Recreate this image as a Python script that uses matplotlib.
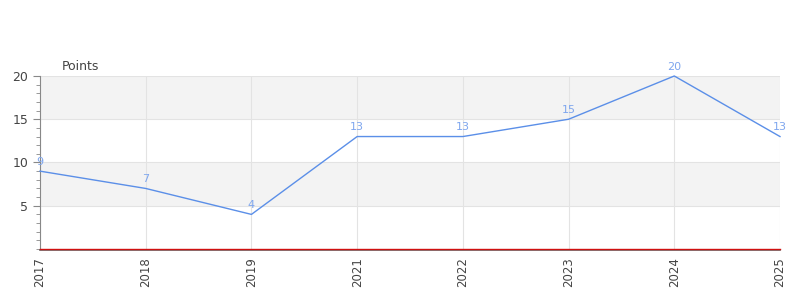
import matplotlib
matplotlib.use('Agg')
import matplotlib.pyplot as plt
from matplotlib.ticker import MultipleLocator

years = ['2017', '2018', '2019', '2021', '2022', '2023', '2024', '2025']
points = [9, 7, 4, 13, 13, 15, 20, 13]

line_color = '#5b8fe8'
grid_color = '#e3e3e3'
band_color = '#f3f3f3'
text_color = '#444444'

fig = plt.figure(figsize=(8, 3), dpi=100)
ax = fig.add_axes([0.05, 0.17, 0.925, 0.5767])

# spines first, set_position resets the tick formatting
for s in ['top', 'right']:
    ax.spines[s].set_visible(False)
ax.spines['left'].set_color('#888888')
ax.spines['bottom'].set_color('#666666')
ax.spines['bottom'].set_linewidth(1.2)
ax.spines['bottom'].set_position(('outward', 1))

x = list(range(len(years)))

# alternating bands
for lo in range(0, 20, 10):
    ax.axhspan(lo + 5, lo + 10, color=band_color, zorder=0, lw=0)

ax.plot(x, points, color=line_color, lw=1, zorder=3, clip_on=False)
for xi, v in zip(x, points):
    ax.annotate(str(v), (xi, v), xytext=(0, 3), textcoords='offset points',
                ha='center', va='bottom', fontsize=8, color='#7ea6ee', zorder=4)

ax.set_xlim(0, len(years) - 1)
ax.set_ylim(0, 20)
ax.set_xticks(x)
ax.set_xticklabels(years, rotation=90, fontsize=8.5, color=text_color)
ax.set_yticks([5, 10, 15, 20])
ax.yaxis.set_minor_locator(MultipleLocator(1))
ax.tick_params(axis='y', labelsize=9, colors=text_color, length=5, color='#888888')
ax.tick_params(axis='y', which='minor', length=3, color='#888888')
ax.tick_params(axis='x', length=0, pad=5)

ax.grid(True, color=grid_color, lw=0.8, zorder=1)
ax.set_axisbelow(True)

ax.axhline(0, color='#d01010', lw=1, zorder=5, clip_on=False)

ax.text(0.03, 1.02, 'Points', transform=ax.transAxes, fontsize=9,
        color=text_color, ha='left', va='bottom')

fig.savefig('out.png', dpi=100)
